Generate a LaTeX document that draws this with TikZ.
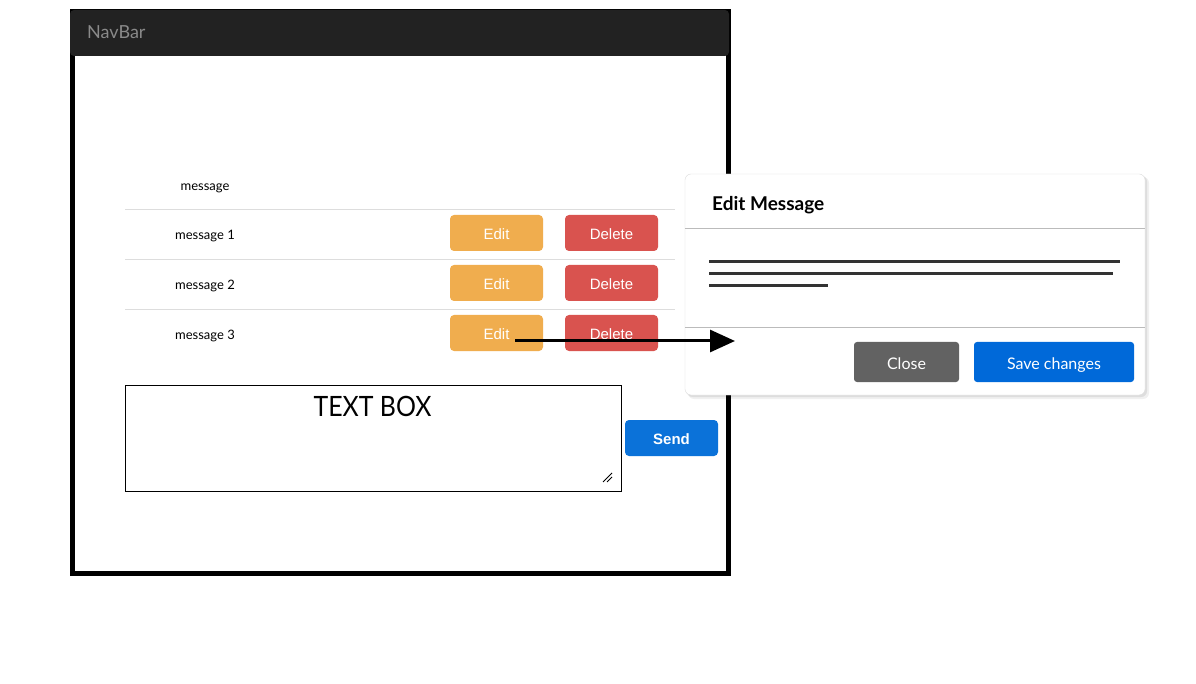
\documentclass[tikz,border=0pt]{standalone}
\usepackage{fontspec}
\setmainfont{Lato}
\newfontfamily\arialf{Liberation Sans}
\usetikzlibrary{arrows.meta,calc}
\definecolor{navbg}{HTML}{222222}
\definecolor{navtxt}{HTML}{8A8A8A}
\definecolor{editc}{HTML}{F0AD4E}
\definecolor{delc}{HTML}{D9534F}
\definecolor{sendc}{HTML}{0B72D9}
\definecolor{closec}{HTML}{626262}
\definecolor{savec}{HTML}{0069D9}
\definecolor{rowline}{HTML}{DDDDDD}
\definecolor{modline}{HTML}{BBBBBB}
\definecolor{txtline}{HTML}{333333}
\tikzset{
  btn/.style={rounded corners=4pt, minimum width=93pt, minimum height=36pt, inner sep=0pt, text height=13.5pt, text depth=0pt, text=white, font=\arialf\fontsize{15}{15}\selectfont},
  editbtn/.style={btn, fill=editc},
  delbtn/.style={btn, fill=delc},
  rowtxt/.style={font=\fontsize{13}{13}\selectfont, inner sep=0pt, text height=9pt, text depth=0pt},
  rowsep/.style={draw=rowline, line width=1pt},
  modbtn/.style={rounded corners=3pt, minimum height=40pt, inner sep=0pt, text height=14pt, text depth=0pt, text=white, font=\fontsize{16}{16}\selectfont},
  txtbar/.style={draw=txtline, line width=3pt},
}
\begin{document}
\begin{tikzpicture}[x=1pt,y=-1pt]
\useasboundingbox (0,0) rectangle (1196,684);
\fill[white] (0,0) rectangle (1196,684);
% frame
\node[draw, line width=5pt, minimum width=656pt, minimum height=562pt, inner sep=0pt] (frame) at (400.5,292.5) {};
% navbar
\node[fill=navbg, rounded corners=4pt, minimum width=659pt, minimum height=46pt, inner sep=0pt] (nav) at (399.5,33) {};
\node[anchor=west, text=navtxt, font=\fontsize{18}{18}\selectfont, inner sep=0pt, text height=13pt, text depth=0pt] (navtext) at (87,32.5) {NavBar};
% rows
\node[rowtxt] (hdr) at (205,186) {message};
\draw[rowsep] (125,209.5) -- (675,209.5);
\draw[rowsep] (125,259.5) -- (675,259.5);
\draw[rowsep] (125,309.5) -- (675,309.5);
\node[rowtxt] (m1) at (205,235.5) {message 1};
\node[rowtxt] (m2) at (205,285.5) {message 2};
\node[rowtxt] (m3) at (205,335.5) {message 3};
\node[editbtn] (edit1) at (496.5,233) {Edit};
\node[editbtn] (edit2) at (496.5,283) {Edit};
\node[editbtn] (edit3) at (496.5,333) {Edit};
\node[delbtn] (del1) at (611.5,233) {Delete};
\node[delbtn] (del2) at (611.5,283) {Delete};
\node[delbtn] (del3) at (611.5,333) {Delete};
% text box
\node[draw, line width=1pt, minimum width=496pt, minimum height=106pt, inner sep=0pt] (tb) at (373,438) {};
\node[font=\fontsize{28}{28}\selectfont, inner sep=0pt, text height=20pt, text depth=0pt] (tbtext) at (372.5,406) {\scalebox{0.89}[1]{TEXT BOX}};
\draw[line width=0.8pt] (603,482) -- (612,473);
\draw[line width=0.8pt] (607,482) -- (612,477);
% send
\node[btn, fill=sendc, font=\arialf\bfseries\fontsize{15}{15}\selectfont] (send) at (671.5,438) {Send};
% modal
\fill[black, opacity=0.06, rounded corners=6pt] (688,177) rectangle (1149,399);
\fill[black, opacity=0.08, rounded corners=6pt] (686.5,175.5) rectangle (1147,397);
\node[draw=rowline, fill=white, rounded corners=6pt, minimum width=460pt, minimum height=221pt, inner sep=0pt] (modal) at (915,284.5) {};
\node[anchor=west, font=\bfseries\fontsize{19}{19}\selectfont, inner sep=0pt, text height=14pt, text depth=0pt] (mtitle) at (712,204) {Edit Message};
\draw[draw=modline, line width=1pt] (modal.west |- 0,228.5) -- (modal.east |- 0,228.5);
\draw[draw=modline, line width=1pt] (modal.west |- 0,327.5) -- (modal.east |- 0,327.5);
\draw[txtbar] (709,262) -- (1120,262);
\draw[txtbar] (709,274) -- (1113,274);
\draw[txtbar] (709,286) -- (828,286);
\node[modbtn, fill=closec, minimum width=105pt] (close) at (906.5,362) {Close};
\node[modbtn, fill=savec, minimum width=160pt] (save) at (1054,362) {Save changes};
% arrow
\coordinate (astart) at ($(edit3.center)+(18.5,8)$);
\coordinate (aend) at (735,341);
\draw[line width=3pt, -{Triangle[length=25pt,width=22pt]}] (astart) -- (aend);
\end{tikzpicture}
\end{document}
